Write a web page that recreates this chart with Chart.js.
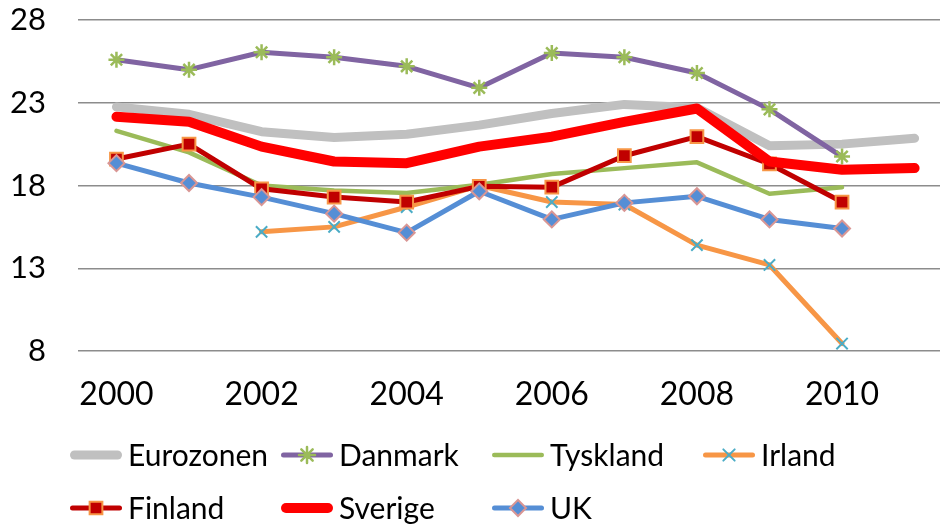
<!DOCTYPE html>
<html>
<head>
<meta charset="utf-8">
<script src="https://cdn.jsdelivr.net/npm/chart.js"></script>
<style>
	html, body { margin: 0; padding: 0; background: #fff; overflow: hidden; }
	#chart { display: block; }
</style>
</head>
<body>
<canvas id="chart" width="940" height="524"></canvas>
<script>
var years = ['2000', '2001', '2002', '2003', '2004', '2005', '2006', '2007', '2008', '2009', '2010', '2011'];
var xTicks = [2000, 2002, 2004, 2006, 2008, 2010];
var yTicks = [8, 13, 18, 23, 28];

var eurozonen = [22.75, 22.3, 21.25, 20.9, 21.1, 21.65, 22.35, 22.9, 22.7, 20.4, 20.5, 20.85];
var danmark = [25.6, 25.0, 26.05, 25.75, 25.2, 23.9, 26.0, 25.75, 24.8, 22.6, 19.75, null];
var tyskland = [21.3, 20.0, 18.0, 17.7, 17.55, 18.05, 18.7, 19.05, 19.4, 17.5, 17.9, null];
var irland = [null, null, 15.2, 15.5, 16.7, 18.0, 17.0, 16.85, 14.4, 13.2, 8.45, null];
var finland = [19.6, 20.5, 17.8, 17.3, 17.0, 17.95, 17.9, 19.8, 20.95, 19.3, 17.0, null];
var sverige = [22.15, 21.85, 20.35, 19.45, 19.35, 20.35, 20.95, 21.85, 22.65, 19.45, 18.95, 19.05];
var uk = [19.35, 18.15, 17.3, 16.3, 15.15, 17.65, 15.95, 16.95, 17.35, 15.95, 15.4, null];

var FONT = 'Lato';

function lineSet(label, data, color, width, order) {
	return {
		label: label,
		data: data,
		borderColor: color,
		borderWidth: width,
		borderCapStyle: 'round',
		borderJoinStyle: 'round',
		pointRadius: 0,
		pointStyle: false,
		tension: 0,
		order: order
	};
}

function withMarker(ds, style, radius, fill, border, bw) {
	ds.pointStyle = style;
	ds.pointRadius = radius;
	ds.pointBackgroundColor = fill;
	ds.pointBorderColor = border;
	ds.pointBorderWidth = bw;
	return ds;
}

// legend in a fixed 4-column grid, like the original
var gridLegend = {
	id: 'gridLegend',
	afterDraw: function (chart) {
		var ctx = chart.ctx;
		chart.data.datasets.forEach(function (ds, i) {
			var x = 70 + (i % 4) * 211;
			var y = 455 + Math.floor(i / 4) * 53;
			ctx.save();
			ctx.strokeStyle = ds.borderColor;
			ctx.lineWidth = ds.borderWidth;
			ctx.lineCap = 'round';
			ctx.beginPath();
			ctx.moveTo(x + ds.borderWidth / 2, y);
			ctx.lineTo(x + 52 - ds.borderWidth / 2, y);
			ctx.stroke();
			if (ds.pointStyle && Chart.helpers && Chart.helpers.drawPoint) {
				ctx.fillStyle = ds.pointBackgroundColor;
				ctx.strokeStyle = ds.pointBorderColor;
				ctx.lineWidth = ds.pointBorderWidth;
				Chart.helpers.drawPoint(ctx, {
					pointStyle: ds.pointStyle,
					radius: ds.pointRadius,
					rotation: 0,
					borderWidth: ds.pointBorderWidth
				}, x + 26, y);
			}
			ctx.fillStyle = '#000';
			ctx.font = '30px ' + FONT;
			ctx.textAlign = 'left';
			ctx.textBaseline = 'alphabetic';
			ctx.fillText(ds.label, x + 58, y + 11);
			ctx.restore();
		});
	}
};

var datasets = [
	lineSet('Eurozonen', eurozonen, '#C0C0C0', 9, 6),
	withMarker(lineSet('Danmark', danmark, '#8064A2', 5, 5), 'star', 8, '#9BBB59', '#9BBB59', 2.5),
	lineSet('Tyskland', tyskland, '#9BBB59', 4.5, 4),
	withMarker(lineSet('Irland', irland, '#F79646', 5, 3), 'crossRot', 8, '#4BACC6', '#4BACC6', 2),
	withMarker(lineSet('Finland', finland, '#C00000', 5, 2), 'rect', 9, '#C00000', '#F79646', 2),
	lineSet('Sverige', sverige, '#FF0000', 10, 1),
	withMarker(lineSet('UK', uk, '#558ED5', 5, 0), 'rectRot', 8, '#558ED5', '#D99694', 2)
];

new Chart(document.getElementById('chart'), {
	type: 'line',
	data: { labels: years, datasets: datasets },
	options: {
		responsive: false,
		animation: false,
		events: [],
		layout: { autoPadding: false, padding: { top: 20, left: 0, right: 0, bottom: 0 } },
		plugins: {
			legend: { display: false },
			tooltip: { enabled: false }
		},
		scales: {
			x: {
				type: 'linear',
				// the original plot runs past the right edge of the picture
				min: 1999.47,
				max: 2011.35,
				grid: { display: false, drawTicks: false },
				border: { display: false },
				afterFit: function (scale) {
					scale.height = 173;
					scale.paddingLeft = 0;
					scale.paddingRight = 0;
				},
				afterBuildTicks: function (scale) {
					scale.ticks = xTicks.map(function (v) { return { value: v }; });
				},
				ticks: {
					autoSkip: false,
					maxRotation: 0,
					padding: 24,
					color: '#000',
					font: { family: FONT, size: 32 },
					callback: function (val) { return String(val); }
				}
			},
			y: {
				min: yTicks[0],
				max: yTicks[yTicks.length - 1],
				afterFit: function (scale) {
					scale.width = 78;
					scale.paddingTop = 0;
					scale.paddingBottom = 0;
				},
				afterBuildTicks: function (scale) {
					scale.ticks = yTicks.map(function (v) { return { value: v }; });
				},
				grid: { color: '#8c8c8c', lineWidth: 1.5, drawTicks: false },
				border: { display: false },
				ticks: {
					padding: 32,
					color: '#000',
					font: { family: FONT, size: 31 }
				}
			}
		}
	},
	plugins: [gridLegend]
});
</script>
</body>
</html>
